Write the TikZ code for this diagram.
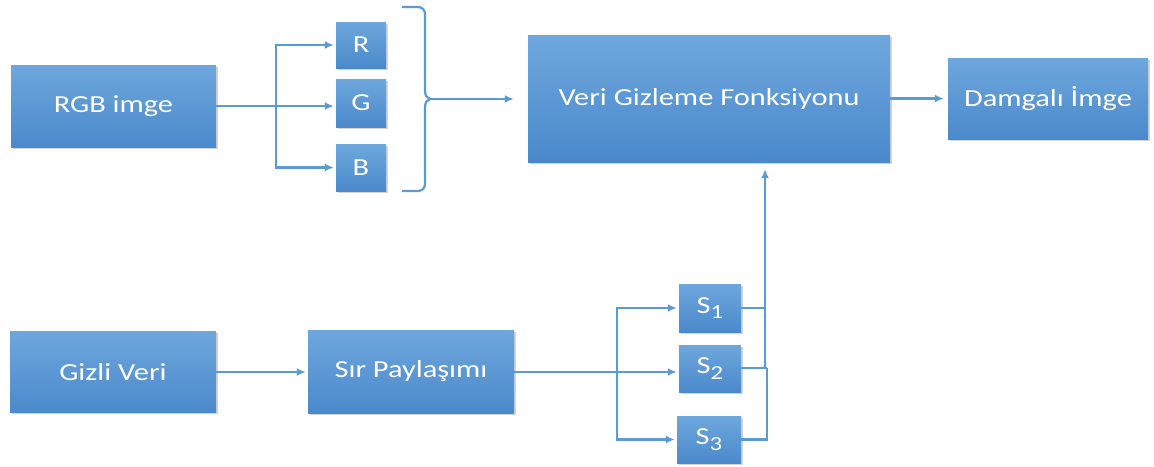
\documentclass[tikz,border=0pt]{standalone}
\usepackage{fontspec}
\usepackage{graphicx}
\setmainfont{Carlito}
\usetikzlibrary{shadows,arrows.meta}
\definecolor{boxtop}{HTML}{6EA7DD}
\definecolor{boxbot}{HTML}{4A89CB}
\definecolor{linec}{HTML}{5B9BD5}
\newcommand{\wtxt}[1]{\scalebox{1.24}[1]{#1}}
\newcommand{\ssub}[1]{S\raisebox{-0.45ex}{\fontsize{20}{22}\selectfont #1}}
\tikzset{
  blockbox/.style={rectangle, top color=boxtop, bottom color=boxbot, draw=none,
    text=white, inner sep=0pt, font=\fontsize{24.5}{28}\selectfont,
    drop shadow={opacity=0.35, shadow xshift=1.5pt, shadow yshift=-1.5pt}},
  conn/.style={draw=linec, line width=2.4pt},
  arr/.style={conn, -{Latex[length=9pt,width=8pt]}, shorten >=2pt},
}
\begin{document}
\begin{tikzpicture}[x=1pt,y=-1pt]
\useasboundingbox (0,0) rectangle (1154,466);
% nodes
\node[blockbox, minimum width=205pt, minimum height=82pt] (rgb) at (113.5,106) {\wtxt{RGB imge}};
\node[blockbox, minimum width=50pt, minimum height=46pt] (R) at (361,45) {\wtxt{R}};
\node[blockbox, minimum width=50pt, minimum height=48pt] (G) at (361,103) {\wtxt{G}};
\node[blockbox, minimum width=50pt, minimum height=47pt] (B) at (361,167.5) {\wtxt{B}};
\node[blockbox, minimum width=362pt, minimum height=127pt] (veri) at (709,98.5) {\wtxt{Veri Gizleme Fonksiyonu}};
\node[blockbox, minimum width=200pt, minimum height=81pt] (damga) at (1048,98.5) {\wtxt{Damgalı İmge}};
\node[blockbox, minimum width=206pt, minimum height=81pt] (gizli) at (113,372) {\wtxt{Gizli Veri}};
\node[blockbox, minimum width=206pt, minimum height=83pt] (sir) at (411,371.5) {\wtxt{Sır Paylaşımı}};
\node[blockbox, minimum width=62pt, minimum height=48pt] (S1) at (710,308) {\wtxt{\ssub{1}}};
\node[blockbox, minimum width=62pt, minimum height=47pt] (S2) at (710,368.5) {\wtxt{\ssub{2}}};
\node[blockbox, minimum width=64pt, minimum height=47pt] (S3) at (709,439.5) {\wtxt{\ssub{3}}};
% RGB split
\coordinate (rs) at (276,106);
\draw[arr] (rgb.east) -- (G.west |- rgb.east);
\draw[arr] (rs) |- (R.west);
\draw[arr] (rs) |- (B.west);
% brace
\coordinate (btip) at (430,99);
\draw[conn, line width=2.2pt] (402,7) -- (416,7) .. controls (423,7) and (425,9) .. (425,16) -- (425,90)
  .. controls (425,96) and (427,98) .. (btip) .. controls (427,100) and (425,102) .. (425,108)
  -- (425,182) .. controls (425,189) and (423,191) .. (416,191) -- (402,191);
\draw[arr, shorten >=14pt] (btip) -- (veri.west |- btip);
\draw[arr, shorten >=4pt] (veri.east) -- (damga.west);
% bottom row
\draw[arr] (gizli.east) -- (sir.west |- gizli.east);
\coordinate (ss) at (617,372);
\draw[arr] (sir.east |- ss) -- (S2.west |- ss);
\draw[arr] (ss) |- (S1.west);
\draw[arr] (ss) |- (S3.west);
% join
\coordinate (up) at (765,368);
\coordinate (up3) at (767,368);
\draw[conn] (S1.east) -- (S1.east -| up);
\draw[conn] (S2.east |- up) -- (up3);
\draw[conn] (S3.east) -| (up3);
\draw[arr, shorten >=7pt] (up) -- (veri.south -| up);
\end{tikzpicture}
\end{document}
